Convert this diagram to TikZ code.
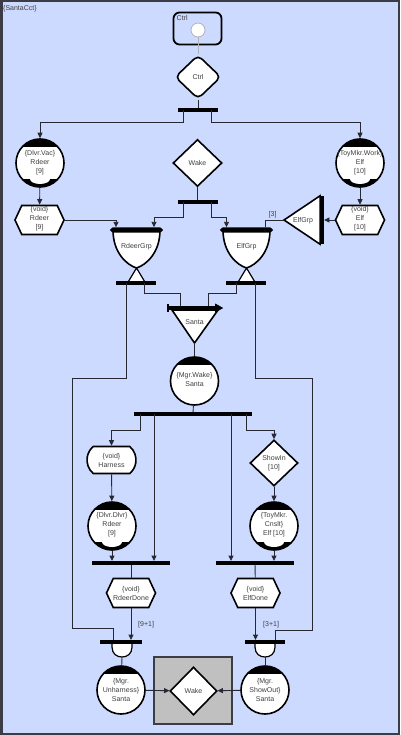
\documentclass[tikz,border=0pt]{standalone}
\usepackage{fontspec}
\setmainfont{Liberation Sans}
\usetikzlibrary{shapes.geometric,shapes.symbols,shapes.misc,arrows.meta,calc}
\definecolor{bg}{RGB}{205,218,255}
\definecolor{frm}{RGB}{60,60,70}
\definecolor{tc}{RGB}{64,64,64}
\definecolor{lc}{RGB}{40,40,50}
\definecolor{boxg}{RGB}{192,192,192}
\begin{document}
\begin{tikzpicture}[x=1pt,y=-1pt,
  txt/.style={font=\fontsize{7}{9}\selectfont, text=tc, align=center, inner sep=0},
  conn/.style={draw=lc, line width=0.9pt},
  arr/.style={conn, -{Triangle[length=5.5pt,width=5pt]}},
  barnode/.style={fill=black, inner sep=0, minimum height=3.5pt, minimum width=#1},
  circ/.style={circle, draw=black, line width=1.6pt, fill=white, minimum size=48pt, inner sep=0},
  hexa/.style={signal, signal to=west and east, signal pointer angle=130, draw=black, line width=1.6pt, fill=white, minimum width=49pt, minimum height=29pt, inner sep=0},
  dia/.style={diamond, draw=black, line width=1.6pt, fill=white, inner sep=0},
  shp/.style={draw=black, line width=1.6pt, fill=white},
  topcap/.style={path picture={
    \fill[black] (path picture bounding box.north west) rectangle ([yshift=-8pt]path picture bounding box.north east);}},
  capboth/.style={path picture={
    \fill[black] (path picture bounding box.north west) rectangle ([yshift=-8pt]path picture bounding box.north east);
    \fill[black] (path picture bounding box.south west) rectangle ([yshift=8pt]path picture bounding box.south east);
    \fill[white] ([yshift=8pt]path picture bounding box.south) ellipse [x radius=10pt, y radius=5pt];}}
]
\useasboundingbox (0,0) rectangle (400,735);
\draw[frm, line width=2.5pt, fill=bg] (1.25,1.25) rectangle (398.75,733.75);
\node[txt, anchor=west] (title) at (3,8.5) {\{SantaCct\}};

% Ctrl box
\node[draw=black, line width=1.8pt, rounded corners=6pt, minimum width=48pt, minimum height=32pt, inner sep=0] (ctrlbox) at (197.5,28.5) {};
\node[txt, anchor=west] (ctrlboxlbl) at (176.5,18.5) {Ctrl};
\node[circle, draw=gray!60, line width=0.8pt, fill=white, minimum size=14pt, inner sep=0] (init) at (198,30) {};
\node[dia, rounded corners=5pt, minimum width=46pt, minimum height=44pt] (ctrl) at (198,77) {};
\node[txt] (ctrl-t) at (198,77) {Ctrl};
\draw[conn, draw=gray!60] (init) -- (ctrl);

% fork 1
\node[barnode=40pt] (fk1) at (198,110) {};
\draw[conn] (ctrl) -- (fk1);
\node[circ, capboth] (dvac) at (40,163) {};
\node[txt] (dvac-t) at (40,162.5) {\{Dlvr.Vac\}\\Rdeer\\{[9]}};
\node[circ, capboth] (twork) at (360,163) {};
\node[txt] (twork-t) at (360,162.5) {\{ToyMkr.Work\}\\Elf\\{[10]}};
\draw[arr] ([xshift=-15pt]fk1.center) -- ++(0,12) -| (dvac.north);
\draw[arr] ([xshift=13pt]fk1.center) -- ++(0,12) -| (twork.north);

% void hexagons
\node[hexa] (rv) at (39.5,220) {};
\node[txt] (rv-t) at (39.5,219) {\{void\}\\Rdeer\\{[9]}};
\node[hexa] (ev) at (360,220) {};
\node[txt] (ev-t) at (360,219) {\{void\}\\Elf\\{[10]}};
\draw[arr] (dvac) -- (rv);
\draw[arr] (twork) -- (ev);

% Wake
\node[dia, minimum width=49pt, minimum height=47pt] (wake1) at (197.5,163) {};
\node[txt] (wake1-t) at (197.5,163) {Wake};
\node[barnode=40pt] (fk2) at (197.5,202) {};
\draw[conn] (wake1) -- (fk2);

% RdeerGrp cup
\draw[shp] (113,230) .. controls (113,253) and (127,265) .. (136.5,268) .. controls (146,265) and (160,253) .. (160,230) -- cycle;
\node[inner sep=0, minimum width=53pt, minimum height=5pt] (rgin) at (136.5,230) {};
\fill[black] (rgin.west) -- ([xshift=3pt]rgin.north west) -- ([xshift=-3pt]rgin.north east) -- (rgin.east) -- ([xshift=-3pt]rgin.south east) -- ([xshift=3pt]rgin.south west) -- cycle;
\node[txt] (rg-t) at (136.5,246.5) {RdeerGrp};
\draw[line width=1.2pt, fill=white] (136.5,268) -- (127.5,283) -- (145.5,283) -- cycle;
\node[barnode=40pt] (rgout) at (135.5,283) {};

% ElfGrp cup
\draw[shp] (223,230) .. controls (223,253) and (237,265) .. (246.5,268) .. controls (256,265) and (270,253) .. (270,230) -- cycle;
\node[inner sep=0, minimum width=53pt, minimum height=5pt] (egin) at (246.5,230) {};
\fill[black] (egin.west) -- ([xshift=3pt]egin.north west) -- ([xshift=-3pt]egin.north east) -- (egin.east) -- ([xshift=-3pt]egin.south east) -- ([xshift=3pt]egin.south west) -- cycle;
\node[txt] (eg-t) at (246.5,246.5) {ElfGrp};
\draw[line width=1.2pt, fill=white] (246.5,268) -- (237.5,283) -- (255.5,283) -- cycle;
\node[barnode=40pt] (egout) at (246,283) {};

% inputs to cups
\draw[arr] (rv.east) -| ([xshift=-20.5pt]rgin.north);
\draw[arr] ([xshift=-14.5pt]fk2.center) -- ++(0,15) -| ([xshift=17.5pt]rgin.north);
\draw[arr] ([xshift=13.5pt]fk2.center) -- ++(0,15) -| ([xshift=-20pt]egin.north);

% ElfGrp triangle
\node[fill=black, inner sep=0, minimum width=3.5pt, minimum height=48pt] (egtb) at (322,220) {};
\coordinate (egt-apex) at (284,220);
\draw[shp] (egt-apex) -- (egtb.north west) -- (egtb.south west) -- cycle;
\node[txt] (egt-t) at (303,220.5) {ElfGrp};
\draw[arr] (ev.west) -- (egtb.east);
\draw[conn] (egt-apex) -| ([xshift=18.5pt]egin.north) node[pos=0.3, above, txt, yshift=2pt] (lbl3) {[3]};

% Santa triangle
\coordinate (santa-apex) at (194.5,343);
\draw[shp] (172,310) -- (218,310) -- (santa-apex) -- cycle;
\node[inner sep=0, minimum width=54pt, minimum height=4pt] (sin) at (195,308) {};
\draw[line width=3.5pt] (sin.west) -- ([xshift=-6pt]sin.east);
\fill[black] ([xshift=-7pt,yshift=4.5pt]sin.east) -- ([xshift=1pt]sin.east) -- ([xshift=-7pt,yshift=-4.5pt]sin.east) -- cycle;
\draw[line width=1.5pt] ([yshift=4pt]sin.west) -- ([yshift=-4pt]sin.west);
\node[txt] (santa-t) at (194.5,322) {Santa};
\draw[conn] ([xshift=8.5pt]rgout.center) -- ++(0,10) -| ([xshift=-15pt]sin.north);
\draw[conn] ([xshift=-10pt]egout.center) -- ++(0,10) -| ([xshift=13pt]sin.north);

% Mgr.Wake
\node[circ, topcap] (mwake) at (194.5,381) {};
\node[txt] (mwake-t) at (194.5,379.5) {\{Mgr.Wake\}\\Santa};
\draw[conn] (santa-apex) -- (mwake);
\node[barnode=118pt] (fk3) at (193,414) {};
\draw[conn] (mwake) -- (fk3);

% Harness / ShowIn
\node[rounded rectangle, rounded rectangle arc length=100, shp, minimum width=49pt, minimum height=27pt, inner sep=0] (harn) at (111.5,460) {};
\node[txt] (harn-t) at (111.5,460.5) {\{void\}\\Harness};
\node[dia, minimum width=48pt, minimum height=46pt] (showin) at (274,463) {};
\node[txt] (showin-t) at (274,463.5) {ShowIn\\{[10]}};
\draw[arr] ([xshift=-53pt]fk3.center) -- ++(0,16) -| (harn.north);
\draw[arr] ([xshift=53pt]fk3.center) -- ++(0,16) -| (showin.north);

% Dlvr / Cnslt
\node[circ, capboth] (ddlvr) at (112,526) {};
\node[txt] (ddlvr-t) at (112,525) {\{Dlvr.Dlvr\}\\Rdeer\\{[9]}};
\node[circ, capboth] (tcnslt) at (274,526) {};
\node[txt] (tcnslt-t) at (274,525) {\{ToyMkr.\\Cnslt\}\\Elf [10]};
\draw[arr] (harn) -- (ddlvr);
\draw[arr] (showin) -- (tcnslt);

% join bars
\node[barnode=78pt] (rdb) at (131,563) {};
\node[barnode=78pt] (edb) at (255,563) {};
\draw[arr] (ddlvr) -- (ddlvr |- rdb.north);
\draw[arr] ([xshift=-39pt]fk3.center) -- ([xshift=23pt]rdb.north);
\draw[arr] ([xshift=38pt]fk3.center) -- ([xshift=-24pt]edb.north);
\draw[arr] (tcnslt) -- (tcnslt |- edb.north);

% done hexagons
\node[hexa] (rdone) at (131,593) {};
\node[txt] (rdone-t) at (131,593) {\{void\}\\RdeerDone};
\node[hexa] (edone) at (255.5,593) {};
\node[txt] (edone-t) at (255.5,593) {\{void\}\\ElfDone};
\draw[conn] (rdb) -- (rdone);
\draw[conn] (edb) -- (edone);

% bottom U shapes and bars
\draw[line width=1.2pt, fill=white] (112,643) -- (112,647) .. controls (112,654) and (117,657) .. (122,657) .. controls (127,657) and (132,654) .. (132,647) -- (132,643);
\coordinate (u1) at (122,657);
\draw[line width=1.2pt, fill=white] (255,643) -- (255,647) .. controls (255,654) and (260,657) .. (265,657) .. controls (270,657) and (275,654) .. (275,647) -- (275,643);
\coordinate (u2) at (265,657);
\node[barnode=42pt] (ub1) at (121,642) {};
\node[barnode=40pt] (ub2) at (265,642) {};
\draw[arr] (rdone) -- (rdone |- ub1.north);
\node[txt, anchor=west] (l91) at (138,624.5) {[9+1]};
\draw[arr] (edone) -- (edone |- ub2.north);
\node[txt, anchor=west] (l31) at (263,624.5) {[3+1]};
\draw[conn] ([xshift=-9.5pt]rgout.center) |- (72,378) -- (72,628) -| ([xshift=-8pt]ub1.north);
\draw[conn] ([xshift=9pt]egout.center) |- (312,378) -- (312,630) -| ([xshift=10pt]ub2.north);

% bottom circles and wake box
\node[circ, topcap] (unh) at (121,690) {};
\node[txt] (unh-t) at (121,690) {\{Mgr.\\Unharness\}\\Santa};
\node[circ, topcap] (sout) at (265,690) {};
\node[txt] (sout-t) at (265,690) {\{Mgr.\\ShowOut\}\\Santa};
\draw[conn] (u1) -- (unh);
\draw[conn] (u2) -- (sout);
\node[draw=frm, line width=1.8pt, fill=boxg, minimum width=78pt, minimum height=67pt, inner sep=0] (gbox) at (193,690.5) {};
\node[dia, minimum width=47pt, minimum height=48pt] (wake2) at (193.5,691) {};
\node[txt] (wake2-t) at (193.5,691) {Wake};
\draw[arr] (unh) -- (wake2);
\draw[arr] (sout) -- (wake2);
\end{tikzpicture}
\end{document}
